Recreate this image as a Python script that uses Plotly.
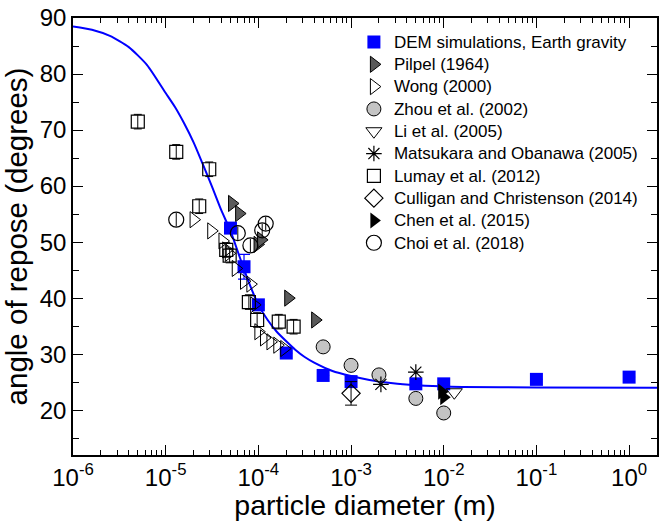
import plotly.graph_objects as go

# ---- data ----
curve_d = [1e-6, 1.6e-6, 2.5e-6, 4e-6, 6.3e-6, 1e-5, 1.26e-5, 1.58e-5, 2e-5, 2.5e-5,
           3.16e-5, 4e-5, 5e-5, 6.3e-5, 7.9e-5, 1e-4, 1.26e-4, 1.58e-4, 2e-4, 2.5e-4,
           3.16e-4, 4e-4, 6.3e-4, 1e-3, 1.58e-3, 3.16e-3, 6.3e-3, 1.58e-2, 0.1, 2.0]
curve_v = [88.5, 87.9, 86.8, 84.8, 81.6, 76.6, 74.1, 71.2, 67.8, 64.0,
           59.9, 55.6, 52.0, 47.3, 42.8, 38.8, 36.1, 34.0, 32.3, 30.8,
           29.5, 28.5, 27.0, 26.1, 25.4, 24.7, 24.35, 24.15, 24.05, 24.0]

dem_d = [5e-5, 7e-5, 1e-4, 2e-4, 5e-4, 1e-3, 5e-3, 1e-2, 0.1, 1.0]
dem_v = [52.5, 45.6, 38.8, 30.2, 26.2, 25.1, 24.7, 24.7, 25.5, 25.9]
dem_err = [0, 2.2, 0, 0, 0, 0, 0, 0, 0, 0]

pilpel_d = [5.2e-5, 6.2e-5, 9.8e-5, 1.07e-4, 2.1e-4, 4.1e-4]
pilpel_v = [56.9, 55.1, 49.6, 50.4, 40.0, 36.1]

wong_d = [2.0e-5, 3.1e-5, 4.1e-5, 4.5e-5, 4.8e-5, 5.7e-5, 7.0e-5, 8.2e-5, 9.0e-5,
          1.0e-4, 1.15e-4, 1.35e-4, 1.6e-4, 1.9e-4]
wong_v = [54.0, 52.0, 50.2, 48.6, 48.0, 45.3, 43.0, 42.5, 38.8,
          34.0, 32.9, 32.2, 31.6, 31.0]

zhou_d = [5e-4, 1e-3, 2e-3, 5e-3, 1e-2]
zhou_v = [31.3, 28.0, 26.3, 22.1, 19.5]

li_d = [1.3e-2]
li_v = [23.2]

mats_d = [2.1e-3, 5e-3]
mats_v = [24.6, 26.8]

lumay_d = [5.0e-6, 1.3e-5, 2.3e-5, 2.95e-5, 4.5e-5, 4.9e-5, 7.9e-5, 9.7e-5, 1.66e-4, 2.4e-4]
lumay_v = [71.5, 66.1, 56.4, 63.0, 48.6, 47.6, 39.3, 36.1, 35.8, 34.9]

cull_d = [1e-3]
cull_v = [23.0]
cull_err = [2.1]

chen_d = [9.5e-3, 1.0e-2]
chen_v = [23.3, 22.3]

choi_d = [1.3e-5, 6.0e-5, 8.2e-5, 1.1e-4, 1.2e-4]
choi_v = [54.0, 51.6, 49.4, 52.1, 53.3]

x_tickvals = [1e-6, 1e-5, 1e-4, 1e-3, 1e-2, 1e-1, 1e0]
x_ticktext = ["10<sup>-6</sup>", "10<sup>-5</sup>", "10<sup>-4</sup>", "10<sup>-3</sup>",
              "10<sup>-2</sup>", "10<sup>-1</sup>", "10<sup>0</sup>"]

FS_LEG = 17


def lname(s):
    return '<span style="font-size:%dpx">%s</span>' % (FS_LEG, s)


fig = go.Figure()

fig.add_trace(go.Scatter(
    x=dem_d, y=dem_v, mode="markers", name=lname("DEM simulations, Earth gravity"),
    marker=dict(symbol="square", size=13, color="#0000ff", line=dict(width=0)),
    error_y=dict(type="data", array=dem_err, color="#0000ff", thickness=1.2, width=6),
))
fig.add_trace(go.Scatter(
    x=curve_d, y=curve_v, mode="lines", showlegend=False,
    line=dict(color="#0000ff", width=2, shape="spline", smoothing=0.6),
))
fig.add_trace(go.Scatter(
    x=pilpel_d, y=pilpel_v, mode="markers", name=lname("Pilpel (1964)"),
    marker=dict(symbol="triangle-right", size=14, color="#5a5a5a",
                line=dict(width=1, color="#000000")),
))
fig.add_trace(go.Scatter(
    x=wong_d, y=wong_v, mode="markers", name=lname("Wong (2000)"),
    marker=dict(symbol="triangle-right-open", size=14, color="#000000",
                line=dict(width=1)),
))
fig.add_trace(go.Scatter(
    x=zhou_d, y=zhou_v, mode="markers", name=lname("Zhou et al. (2002)"),
    marker=dict(symbol="circle", size=14, color="#c4c4c4",
                line=dict(width=1, color="#000000")),
))
fig.add_trace(go.Scatter(
    x=li_d, y=li_v, mode="markers", name=lname("Li et al. (2005)"),
    marker=dict(symbol="triangle-down-open", size=14, color="#000000", line=dict(width=1)),
))
fig.add_trace(go.Scatter(
    x=mats_d, y=mats_v, mode="markers", name=lname("Matsukara and Obanawa (2005)"),
    marker=dict(symbol="asterisk-open", size=13, color="#000000", line=dict(width=1.2)),
))
fig.add_trace(go.Scatter(
    x=lumay_d, y=lumay_v, mode="markers", name=lname("Lumay et al. (2012)"),
    marker=dict(symbol="square-open", size=13, color="#000000", line=dict(width=1.2)),
    error_y=dict(type="constant", value=1.3, color="#000000", thickness=1, width=4),
))
fig.add_trace(go.Scatter(
    x=cull_d, y=cull_v, mode="markers", name=lname("Culligan and Christenson (2014)"),
    marker=dict(symbol="diamond-open", size=14, color="#000000", line=dict(width=1.2)),
    error_y=dict(type="data", array=cull_err, color="#000000", thickness=1, width=6),
))
fig.add_trace(go.Scatter(
    x=chen_d, y=chen_v, mode="markers", name=lname("Chen et al. (2015)"),
    marker=dict(symbol="triangle-right", size=14, color="#000000"),
))
fig.add_trace(go.Scatter(
    x=choi_d, y=choi_v, mode="markers", name=lname("Choi et al. (2018)"),
    marker=dict(symbol="circle-open", size=15, color="#000000", line=dict(width=1.2)),
    error_y=dict(type="constant", value=1.2, color="#000000", thickness=1, width=0),
))

axis_common = dict(
    showline=True, linecolor="#000000", linewidth=1.5, mirror="ticks",
    ticks="inside", ticklen=10, tickwidth=1.2, tickcolor="#000000",
    showgrid=False, zeroline=False,
    tickfont=dict(family="Liberation Sans, Arial, sans-serif", size=24, color="#000000"),
)

fig.update_xaxes(
    type="log", range=[-6, 0.30103],
    tickvals=x_tickvals, ticktext=x_ticktext,
    minor=dict(ticks="inside", ticklen=5, tickwidth=1, tickcolor="#000000", dtick="D1"),
    title=dict(text="particle diameter (m)", standoff=4,
               font=dict(family="Liberation Sans, Arial, sans-serif", size=28.5, color="#000000")),
    **axis_common,
)
fig.update_yaxes(
    range=[12, 90], dtick=10, tick0=0,
    minor=dict(ticks="inside", ticklen=6, tickwidth=1, tickcolor="#000000", dtick=5),
    title=dict(text="angle of repose (degrees)", standoff=4,
               font=dict(family="Liberation Sans, Arial, sans-serif", size=29.5, color="#000000")),
    **axis_common,
)

fig.update_layout(
    width=660, height=521,
    margin=dict(l=73, r=1, t=18, b=66),
    paper_bgcolor="#ffffff", plot_bgcolor="#ffffff",
    font=dict(family="Liberation Sans, Arial, sans-serif", color="#000000"),
    legend=dict(x=0.481, y=0.982, xanchor="left", yanchor="top",
                bgcolor="rgba(0,0,0,0)", borderwidth=0,
                font=dict(size=14.85, family="Liberation Sans, Arial, sans-serif"),
                itemsizing="trace", tracegroupgap=0),
    showlegend=True,
)

fig.write_html("out.html")
